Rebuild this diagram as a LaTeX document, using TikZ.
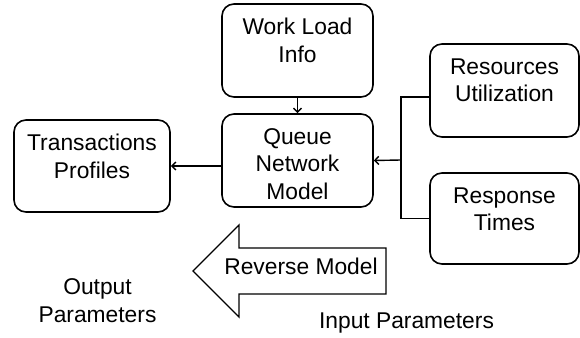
\documentclass[tikz,border=0pt]{standalone}
\usepackage{fontspec}
\setmainfont{Liberation Sans}
\usetikzlibrary{arrows.meta, calc}

\begin{document}
\begin{tikzpicture}[x=1pt, y=1pt,
  box/.style={draw, line width=1.6pt, rounded corners=12pt, minimum width=151pt, minimum height=93pt, inner sep=0pt},
  txt/.style={align=center, inner sep=0pt, font=\fontsize{22.8}{27.5}\selectfont},
  lbl/.style={txt, anchor=north, yshift=-15pt},
  link/.style={line width=1.4pt, -{Straight Barb[length=4pt, width=8pt]}}]
\useasboundingbox (0,0) rectangle (580,337);

% boxes
\node[box] (work) at (297.5,286.5) {};
\node[box] (queue) at (297.5,176.5) {};
\node[box, minimum width=156pt, minimum height=92pt] (trans) at (92,171) {};
\node[box, minimum width=149pt] (resrc) at (504.5,246.5) {};
\node[box, minimum width=149pt, minimum height=91pt] (resp) at (504.5,118.5) {};

% texts sit near the top edge of each box
\node[lbl] (worktxt) at (work.north) {Work Load\\Info};
\node[lbl] (queuetxt) at (queue.north) {Queue\\Network\\Model};
\node[lbl] (transtxt) at (trans.north) {Transactions\\Profiles};
\node[lbl] (resrctxt) at (resrc.north) {Resources\\Utilization};
\node[lbl] (resptxt) at (resp.north) {Response\\Times};

% connectors
\draw[link] (work) -- (queue);
\draw[link] (queue.west |- trans.east) -- (trans.east);
\coordinate (fork) at (401,177);
\draw[line width=1.4pt] ([yshift=-6.5pt]resrc.west) -| (fork) |- (resp.west);
\draw[link] (fork) -- (queue.east);

% big arrow pointing back
\draw[line width=1.3pt] (386,89) -- (239,89) -- (239,112) -- (193,66) -- (239,20) -- (239,43) -- (386,43) -- cycle;
\node[txt, anchor=base] (rev) at (301,63) {Reverse Model};

\node[txt, anchor=north] (outp) at (97.5,58.5) {Output\\Parameters};
\node[txt, anchor=base] (inp) at (406.5,8.5) {Input Parameters};
\end{tikzpicture}
\end{document}
